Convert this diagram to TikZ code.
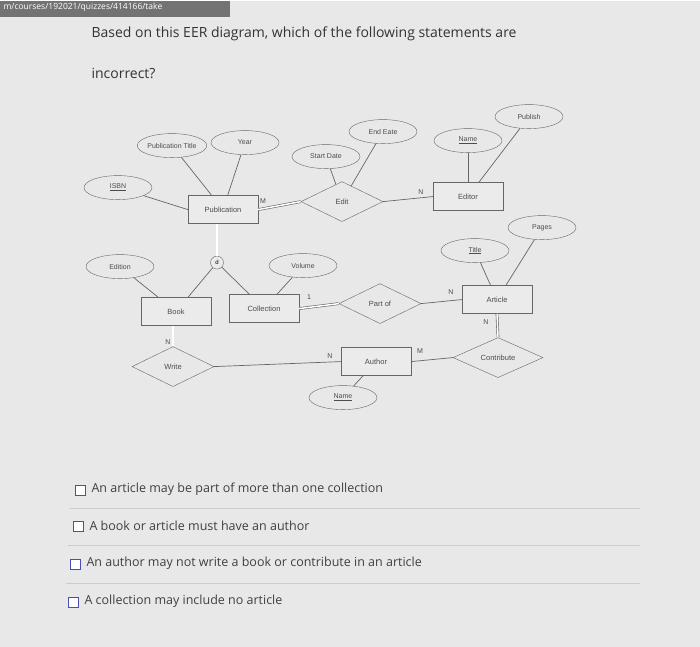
\documentclass[tikz,border=0pt]{standalone}
\usepackage{fontspec}
\setmainfont{Open Sans}
\newfontfamily\dg{Liberation Sans}
\usetikzlibrary{shapes.geometric}
\begin{document}
\begin{tikzpicture}[x=1pt,y=-1pt,
 ent/.style={draw=black!60,fill=white!92!black,minimum width=70pt,minimum height=28pt,font=\dg\fontsize{7.5}{8}\selectfont,text=black!70},
 att/.style={draw=black!60,ellipse,minimum width=68pt,minimum height=24pt,font=\dg\fontsize{7}{8}\selectfont,text=black!70,inner sep=0pt},
 rel/.style={draw=black!60,diamond,aspect=2,minimum width=82pt,minimum height=40pt,inner sep=0pt,font=\dg\fontsize{7.5}{8}\selectfont,text=black!70},
 ln/.style={draw=black!60,line width=0.7pt},
 dbl/.style={draw=black!60,double,double distance=1.5pt,line width=0.6pt},
 card/.style={font=\dg\fontsize{7}{8}\selectfont,text=black!70},
 opt/.style={anchor=west,font=\fontsize{12.5}{14}\selectfont,text=black!75},
 cb/.style={draw=blue!40!gray,minimum size=10pt,inner sep=0pt,fill=white}]
\fill[black!9] (0,0) rectangle (700,646);
\fill[black!55] (0,0) rectangle (230,16);
\node[anchor=west,text=white,font=\fontsize{8.5}{9}\selectfont] (url) at (0,7) {m/courses/192021/quizzes/414166/take};
\node[anchor=west,font=\fontsize{14}{16}\selectfont,text=black!80] (q1) at (88,33) {Based on this EER diagram, which of the following statements are};
\node[anchor=west,font=\fontsize{14}{16}\selectfont,text=black!80] (q2) at (88,73) {incorrect?};
% entities
\node[ent] (pub) at (223,209) {Publication};
\node[ent] (editor) at (468,196) {Editor};
\node[ent] (book) at (176,311) {Book};
\node[ent] (coll) at (264,308) {Collection};
\node[ent] (art) at (497,299) {Article};
\node[ent] (auth) at (376,361) {Author};
% attributes
\node[att] (pt) at (172,145) {Publication Title};
\node[att] (yr) at (245,142) {Year};
\node[att] (isbn) at (118,187) {\underline{ISBN}};
\node[att] (sd) at (326,156) {Start Date};
\node[att] (ed) at (383,131) {End Eate};
\node[att] (en) at (468,140) {\underline{Name}};
\node[att] (publ) at (529,116) {Publish};
\node[att] (edn) at (120,266) {Edition};
\node[att] (vol) at (303,265) {Volume};
\node[att] (ti) at (475,250) {\underline{Title}};
\node[att] (pg) at (542,227) {Pages};
\node[att] (an) at (343,397) {\underline{Name}};
% relations
\node[rel] (edit) at (342,201) {Edit};
\node[rel] (partof) at (380,303) {Part of};
\node[rel] (write) at (173,366) {Write};
\node[rel,minimum width=90pt] (contr) at (498,357) {Contribute};
\node[draw=black!60,circle,minimum size=13pt,inner sep=0pt,fill=white!92!black,font=\dg\fontsize{6}{7}\selectfont] (d) at (217,262) {d};
% lines
\draw[ln] (pt) -- (pub); \draw[ln] (yr) -- (pub); \draw[ln] (isbn) -- (pub.west);
\draw[ln] (sd) -- (edit); \draw[ln] (ed) -- (edit);
\draw[ln] (en) -- (editor); \draw[ln] (publ) -- (editor);
\draw[ln] (edn) -- (book); \draw[ln] (vol) -- (coll);
\draw[ln] (ti) -- (art); \draw[ln] (pg) -- (art);
\draw[ln] (an) -- (auth);
\draw[dbl] (pub.east) -- (edit.west);
\draw[ln] (edit.east) -- (editor.west);
\draw[dbl] (pub.south -| d) -- (d);
\draw[ln] (d) -- (book); \draw[ln] (d) -- (coll);
\draw[dbl] (coll.east) -- (partof.west);
\draw[ln] (partof.east) -- (art.west);
\draw[dbl] (book.south -| write) -- (write.north);
\draw[ln] (write.east) -- (auth.west);
\draw[ln] (auth.east) -- (contr.west);
\draw[dbl] (art.south) -- (contr.north);
% cardinalities
\node[card] (c1) at (263,201) {M};
\node[card] (c2) at (421,192) {N};
\node[card] (c3) at (309,297) {1};
\node[card] (c4) at (451,291) {N};
\node[card] (c5) at (168,341) {N};
\node[card] (c6) at (330,355) {N};
\node[card] (c7) at (420,350) {M};
\node[card] (c8) at (486,321) {N};
% options
\draw[black!20] (70,508) -- (640,508); \draw[black!20] (68,545) -- (640,545); \draw[black!20] (66,583) -- (640,583);
\node[cb] (b1) at (80,490) {}; \node[opt] (o1) at (88,489) {An article may be part of more than one collection};
\node[cb] (b2) at (78,526) {}; \node[opt] (o2) at (86,525) {A book or article must have an author};
\node[cb] (b3) at (75,564) {}; \node[opt] (o3) at (83,563) {An author may not write a book or contribute in an article};
\node[cb] (b4) at (73,602) {}; \node[opt] (o4) at (81,601) {A collection may include no article};
\end{tikzpicture}
\end{document}
